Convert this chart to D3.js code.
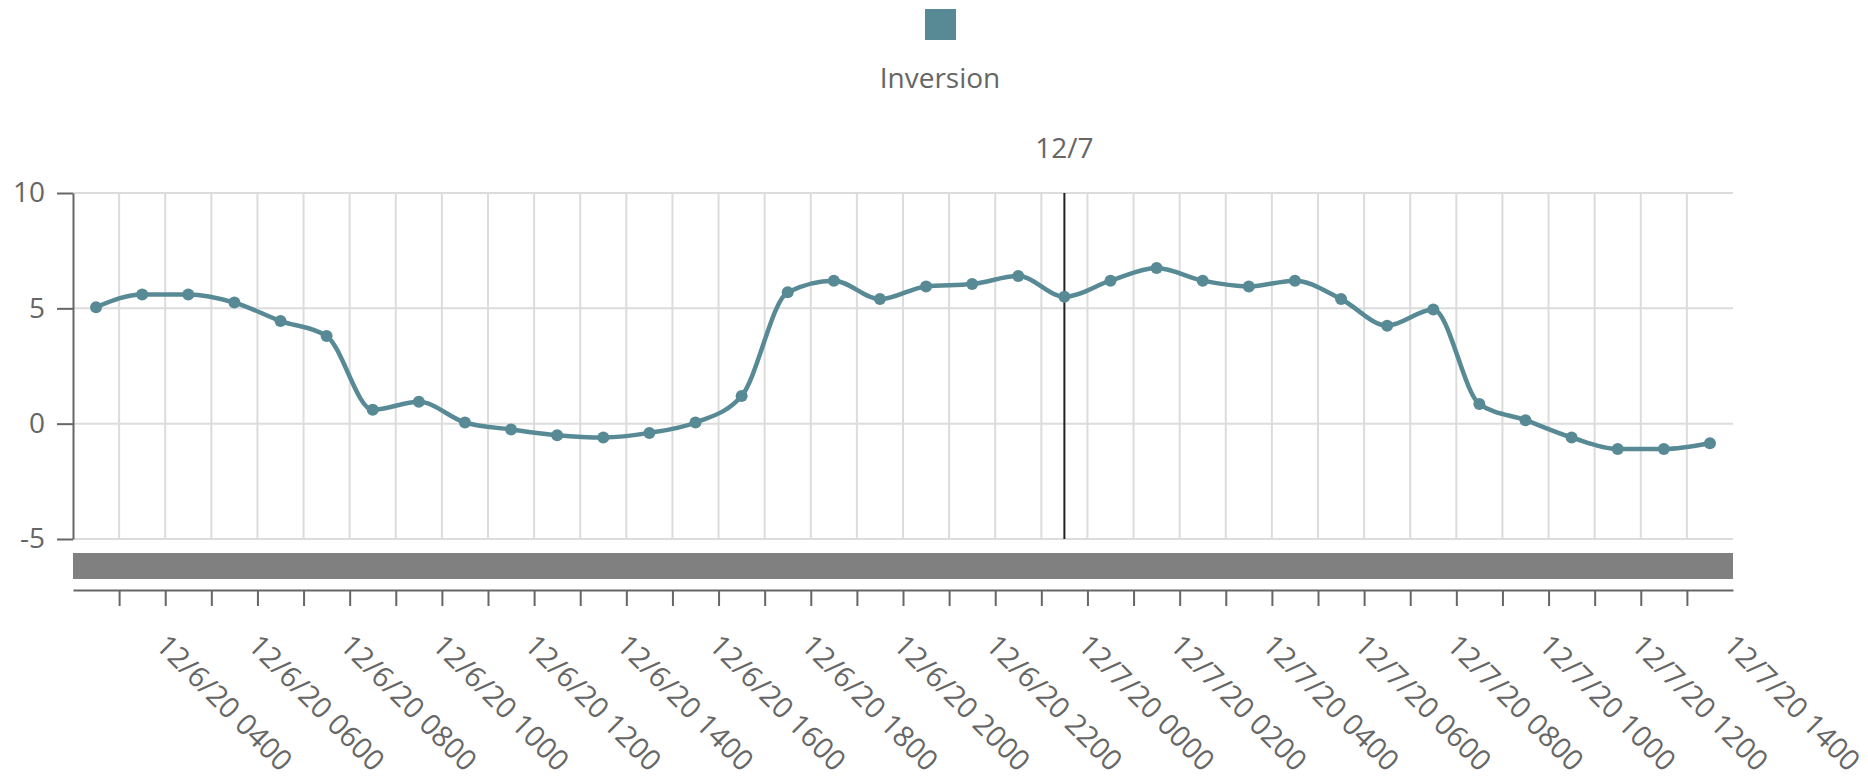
<!DOCTYPE html>
<html>
<head>
<meta charset="utf-8">
<script src="https://cdn.jsdelivr.net/npm/d3@7"></script>
<style>
  body { margin: 0; background: #fff; }
  svg text { font-family: "Open Sans", sans-serif; fill: #666; }
</style>
</head>
<body>
<svg id="chart" width="1868" height="782"></svg>
<script>
// hourly readings, 12/6 03:00 -> 12/7 14:00
const seriesName = 'Inversion';
const categories = [
  '12/6/20 0300', '12/6/20 0400', '12/6/20 0500', '12/6/20 0600', '12/6/20 0700', '12/6/20 0800',
  '12/6/20 0900', '12/6/20 1000', '12/6/20 1100', '12/6/20 1200', '12/6/20 1300', '12/6/20 1400',
  '12/6/20 1500', '12/6/20 1600', '12/6/20 1700', '12/6/20 1800', '12/6/20 1900', '12/6/20 2000',
  '12/6/20 2100', '12/6/20 2200', '12/6/20 2300', '12/7/20 0000', '12/7/20 0100', '12/7/20 0200',
  '12/7/20 0300', '12/7/20 0400', '12/7/20 0500', '12/7/20 0600', '12/7/20 0700', '12/7/20 0800',
  '12/7/20 0900', '12/7/20 1000', '12/7/20 1100', '12/7/20 1200', '12/7/20 1300', '12/7/20 1400'
];
const values = [
  5.05, 5.6, 5.6, 5.25, 4.45, 3.8, 0.6, 0.95, 0.05, -0.25, -0.5, -0.6,
  -0.4, 0.05, 1.2, 5.7, 6.2, 5.4, 5.95, 6.05, 6.4, 5.5, 6.2, 6.75,
  6.2, 5.95, 6.2, 5.4, 4.25, 4.95, 0.85, 0.15, -0.6, -1.1, -1.1, -0.85
];
const tickLabels = [
  '12/6/20 0400', '12/6/20 0600', '12/6/20 0800', '12/6/20 1000', '12/6/20 1200', '12/6/20 1400',
  '12/6/20 1600', '12/6/20 1800', '12/6/20 2000', '12/6/20 2200', '12/7/20 0000', '12/7/20 0200',
  '12/7/20 0400', '12/7/20 0600', '12/7/20 0800', '12/7/20 1000', '12/7/20 1200', '12/7/20 1400'
];
const yTicks = [-5, 0, 5, 10];
const dayMarker = { category: '12/7/20 0000', label: '12/7' };

const color = '#588a96';
const plotLeft = 73, plotRight = 1733, plotTop = 193, plotBottom = 539;

const svg = d3.select('#chart');

const x = d3.scaleBand().domain(categories).range([plotLeft, plotRight]).padding(0);
const xIdx = d3.scaleLinear().domain([0, categories.length]).range([plotLeft, plotRight]);
const y = d3.scaleLinear().domain([-5, 10]).range([plotBottom, plotTop]);
const cx = c => x(c) + x.bandwidth() / 2;

// grid
const grid = svg.append('g').attr('stroke', '#dcdcdc').attr('stroke-width', 2);
grid.selectAll('line.h')
  .data(yTicks)
  .join('line')
  .attr('class', 'h')
  .attr('x1', plotLeft).attr('x2', plotRight)
  .attr('y1', d => y(d)).attr('y2', d => y(d));
grid.selectAll('line.v')
  .data(d3.range(1, categories.length))
  .join('line')
  .attr('class', 'v')
  .attr('x1', d => xIdx(d)).attr('x2', d => xIdx(d))
  .attr('y1', plotTop).attr('y2', plotBottom);

// y axis
const yAxis = svg.append('g')
  .attr('transform', `translate(${plotLeft},0)`)
  .call(d3.axisLeft(y).tickValues(yTicks).tickFormat(d => String(d))
    .tickSize(16).tickSizeOuter(0).tickPadding(12));
yAxis.select('.domain').attr('stroke', '#666').attr('stroke-width', 2);
yAxis.selectAll('.tick line').attr('stroke', '#666').attr('stroke-width', 2);
yAxis.selectAll('.tick text').style('font-size', '28px').attr('fill', '#666');

// day marker
svg.append('line')
  .attr('x1', cx(dayMarker.category)).attr('x2', cx(dayMarker.category))
  .attr('y1', plotTop).attr('y2', plotBottom)
  .attr('stroke', '#222').attr('stroke-width', 2);
svg.append('text')
  .attr('x', cx(dayMarker.category)).attr('y', 158)
  .attr('text-anchor', 'middle')
  .style('font-size', '28px')
  .text(dayMarker.label);

// series
const line = d3.line()
  .x((d, i) => cx(categories[i]))
  .y(d => y(d))
  .curve(d3.curveMonotoneX);

svg.append('path')
  .datum(values)
  .attr('d', line)
  .attr('fill', 'none')
  .attr('stroke', color)
  .attr('stroke-width', 4.5);

svg.append('g')
  .selectAll('circle')
  .data(values)
  .join('circle')
  .attr('cx', (d, i) => cx(categories[i]))
  .attr('cy', d => y(d))
  .attr('r', 6)
  .attr('fill', color);

// navigator bar
svg.append('rect')
  .attr('x', plotLeft).attr('y', 553)
  .attr('width', plotRight - plotLeft).attr('height', 26)
  .attr('fill', '#808080');

// x axis
const xAxis = svg.append('g')
  .attr('transform', 'translate(0,590)')
  .call(d3.axisBottom(xIdx).tickValues(d3.range(1, categories.length)).tickSize(16).tickSizeOuter(0).tickFormat(''));
xAxis.select('.domain').attr('stroke', '#666').attr('stroke-width', 2);
xAxis.selectAll('.tick line').attr('stroke', '#666').attr('stroke-width', 2);

const xLabels = svg.append('g')
  .attr('transform', 'translate(0,589)')
  .call(d3.axisBottom(x).tickValues(tickLabels).tickSize(0));
xLabels.select('.domain').remove();
xLabels.selectAll('.tick text')
  .attr('y', 0).attr('dy', 0)
  .attr('transform', 'translate(12,58) rotate(45)')
  .style('text-anchor', 'start')
  .style('font-size', '29px')
  .attr('fill', '#666');

// legend
svg.append('rect')
  .attr('x', 925).attr('y', 9)
  .attr('width', 31).attr('height', 31)
  .attr('fill', color);
svg.append('text')
  .attr('x', 940).attr('y', 88)
  .attr('text-anchor', 'middle')
  .style('font-size', '28px')
  .text(seriesName);
</script>
</body>
</html>
